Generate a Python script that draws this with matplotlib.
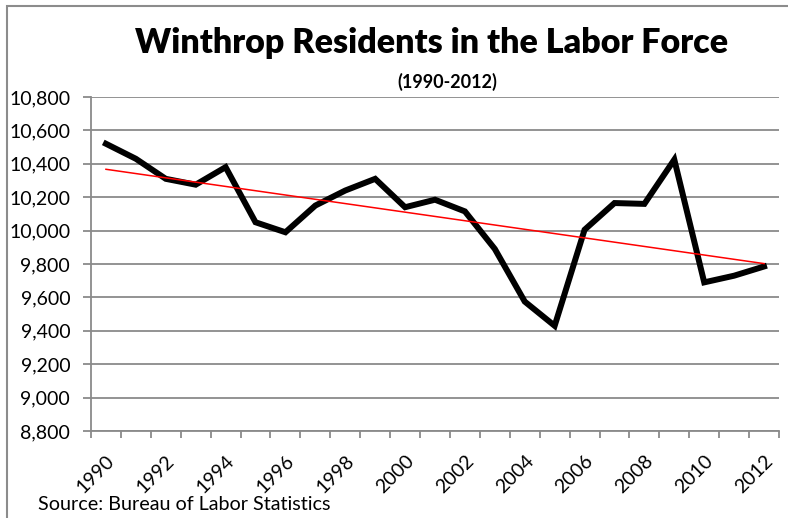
import numpy as np
import matplotlib
matplotlib.use("Agg")
import matplotlib.pyplot as plt
from matplotlib.patches import Rectangle
from matplotlib.ticker import FuncFormatter

years = list(range(1990, 2013))
labor_force = [10520, 10430, 10310, 10275, 10380, 10050, 9990, 10150, 10240, 10310,
               10140, 10185, 10115, 9890, 9575, 9430, 10005, 10165, 10160, 10425,
               9690, 9730, 9785]
label_years = list(range(1990, 2013, 2))

plt.rcParams['font.family'] = ['Lato', 'DejaVu Sans']

fig = plt.figure(figsize=(7.88, 5.18), dpi=100)
fig.patches.append(Rectangle((7 / 788, -0.1), 1.2, 1 - 6 / 518 + 0.1, transform=fig.transFigure,
                             fill=False, edgecolor='#8c8c8c', linewidth=1.5))
ax = fig.add_axes([91 / 788, 1 - 431 / 518, (779 - 91) / 788, (431 - 97) / 518])

# linear trend line
coef = np.polyfit(years, labor_force, 1)
trend = np.polyval(coef, years)

ax.plot(years, labor_force, color='black', linewidth=4.3, solid_joinstyle='miter', zorder=3)
ax.plot(years, trend, color='red', linewidth=1.1, zorder=4)

ax.set_xlim(1989.5, 2012.5)
ax.set_ylim(8800, 10800)
ax.set_yticks(np.arange(8800, 10801, 200))
ax.yaxis.set_major_formatter(FuncFormatter(lambda v, p: f"{int(v):,}"))
ax.grid(axis='y', color='#8a8a8a', linewidth=1.3)
ax.set_axisbelow(True)

ax.set_xticks([y - 0.5 for y in years] + [2012.5])
ax.set_xticklabels([])
ax.set_xticks(label_years, minor=True)
ax.set_xticklabels([str(y) for y in label_years], minor=True, rotation=45,
                   ha='right', va='top', rotation_mode='anchor', fontsize=14)
ax.tick_params(axis='x', which='major', length=5, color='#8a8a8a', width=1.3)
ax.tick_params(axis='x', which='minor', length=0, pad=15)
ax.tick_params(axis='y', length=6, color='#8a8a8a', width=1.3, labelsize=14, pad=9)

for s in ['top', 'right']:
    ax.spines[s].set_visible(False)
for s in ['left', 'bottom']:
    ax.spines[s].set_color('#8a8a8a')
    ax.spines[s].set_linewidth(1.3)

fig.text(432 / 788, 1 - 43 / 518, "Winthrop Residents in the Labor Force", ha='center', va='center',
         fontsize=24.5, fontweight='heavy')
fig.text(447 / 788, 1 - 82 / 518, "(1990-2012)", ha='center', va='center',
         fontsize=13, fontweight='bold')
fig.text(38 / 788, 1 - 504 / 518, "Source: Bureau of Labor Statistics", ha='left', va='center',
         fontsize=14.2)

fig.savefig("out.png", dpi=100)
